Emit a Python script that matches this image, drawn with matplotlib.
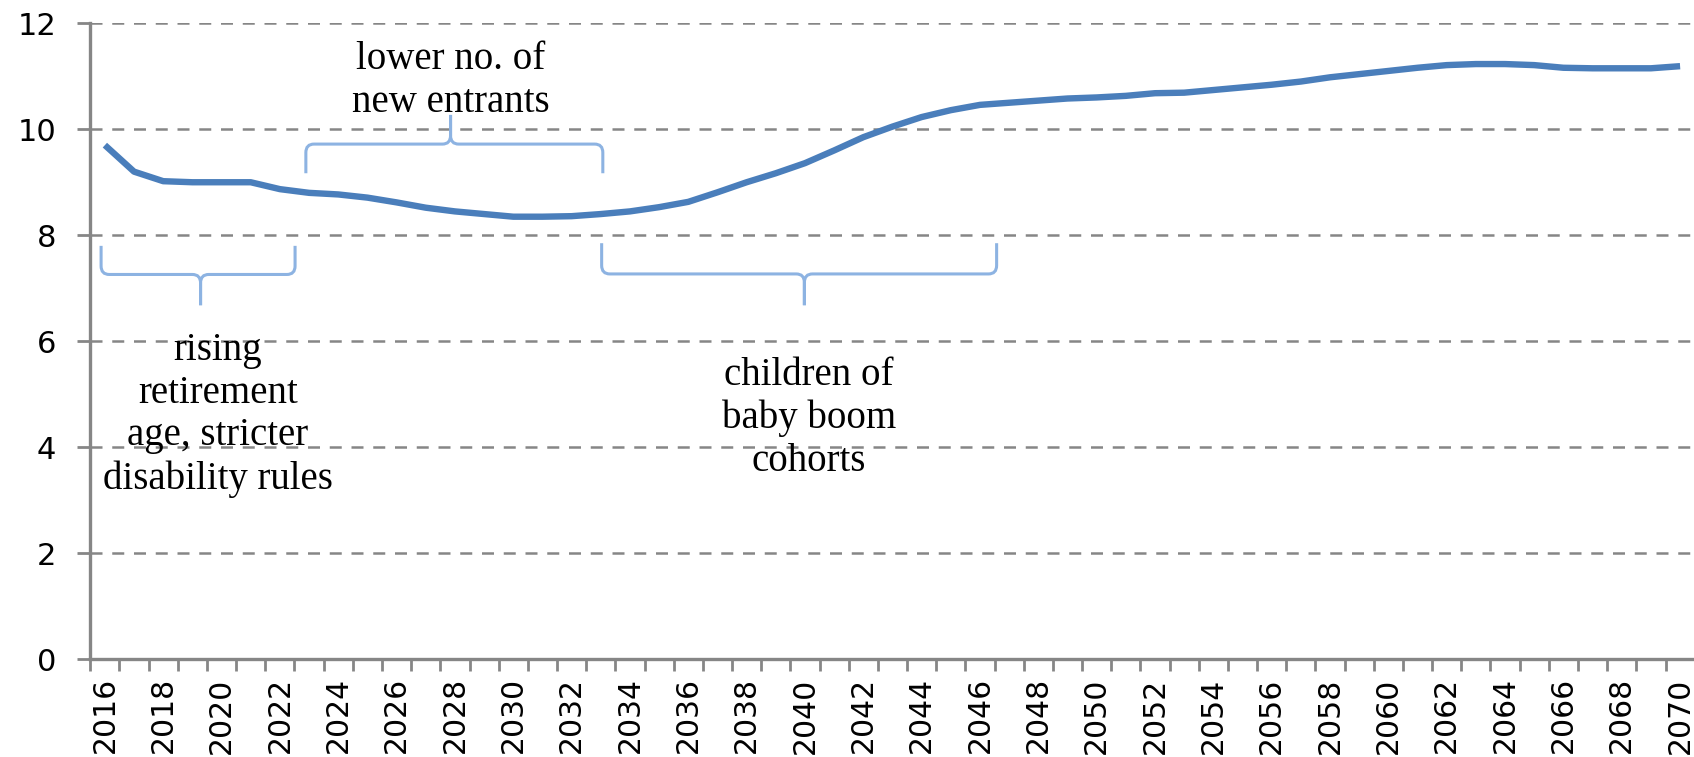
import matplotlib
matplotlib.use("Agg")
import matplotlib.pyplot as plt
from matplotlib.path import Path
from matplotlib.patches import PathPatch

years = list(range(2016, 2071))
values = [9.70, 9.20, 9.02, 9.00, 9.00, 9.00, 8.87, 8.80, 8.77, 8.71,
          8.62, 8.52, 8.45, 8.40, 8.35, 8.35, 8.36, 8.40, 8.45, 8.53,
          8.63, 8.81, 9.00, 9.17, 9.36, 9.60, 9.85, 10.05, 10.23, 10.36,
          10.46, 10.50, 10.54, 10.58, 10.60, 10.63, 10.68, 10.69, 10.74, 10.79,
          10.84, 10.90, 10.98, 11.04, 11.10, 11.16, 11.21, 11.23, 11.23, 11.21,
          11.16, 11.15, 11.15, 11.15, 11.19]
y_ticks = [0, 2, 4, 6, 8, 10, 12]
x_labels = [str(y) for y in years[::2]]

annotations = ["rising\nretirement\nage, stricter\ndisability rules",
               "lower no. of\nnew entrants",
               "children of\nbaby boom\ncohorts"]

GRAY = "#868686"
LINE = "#4A7EBB"
BRACE = "#8DB3E2"

fig = plt.figure(figsize=(16.94, 7.57), dpi=100)
ax = fig.add_axes([0.0533, 0.1291, 0.9471, 0.8402])

xs = list(range(len(years)))
ax.plot(xs, values, color=LINE, lw=4.6, solid_joinstyle="round",
        solid_capstyle="butt", zorder=3)

ax.set_xlim(-0.5, len(years) - 0.5)
ax.set_ylim(0, 12)

# y axis
ax.set_yticks(y_ticks)
ax.set_yticklabels([str(v) for v in y_ticks])
ax.tick_params(axis="y", direction="out", length=9.4, width=2.0, color=GRAY,
               pad=15, labelsize=22, labelcolor="black")
for v in y_ticks[1:]:
    ax.axhline(v, color=GRAY, lw=1.8, linestyle=(0, (4.8, 3.9)), zorder=1)

# x axis: labels every two years at category centres, ticks at boundaries
ax.set_xticks(xs[::2])
ax.set_xticklabels(x_labels, rotation=90)
ax.set_xticks([i - 0.5 for i in range(len(years) + 1)], minor=True)
ax.tick_params(axis="x", which="major", length=0, pad=13, labelsize=21.5,
               labelcolor="black")
ax.tick_params(axis="x", which="minor", direction="out", length=8.6,
               width=2.0, color=GRAY)
for lab in ax.get_xticklabels():
    lab.set_va("top")

for s in ["top", "right"]:
    ax.spines[s].set_visible(False)
for s in ["left", "bottom"]:
    ax.spines[s].set_color(GRAY)
    ax.spines[s].set_linewidth(2.4)


def brace(x0, x1, xt, y_end, y_bar, y_tip, rx=0.28, ry=0.16):
    sgn_end = 1 if y_end > y_bar else -1
    sgn_tip = 1 if y_tip > y_bar else -1
    for xa, dx in ((x0, 1), (x1, -1)):
        verts = [(xa, y_end), (xa, y_bar + sgn_end * ry), (xa, y_bar),
                 (xa + dx * rx, y_bar), (xt - dx * rx, y_bar), (xt, y_bar),
                 (xt, y_bar + sgn_tip * ry), (xt, y_tip)]
        codes = [Path.MOVETO, Path.LINETO, Path.CURVE3, Path.CURVE3,
                 Path.LINETO, Path.CURVE3, Path.CURVE3, Path.LINETO]
        ax.add_patch(PathPatch(Path(verts, codes), fill=False, ec=BRACE,
                               lw=2.2, zorder=2, capstyle="butt"))


brace(-0.13, 6.52, 3.28, 7.80, 7.26, 6.68)
brace(6.89, 17.07, 11.85, 9.17, 9.72, 10.27)
brace(17.03, 30.57, 23.98, 7.85, 7.27, 6.68)

# va="baseline" anchors the baseline of the last line
tkw = dict(ha="center", va="baseline", fontsize=28, family="Liberation Serif",
           linespacing=1.2, multialignment="center", color="black", zorder=4)
ax.text(3.88, 3.22, annotations[0], **tkw)
ax.text(11.86, 10.33, annotations[1], **tkw)
ax.text(24.14, 3.56, annotations[2], **tkw)

fig.savefig("out.png", dpi=100)
